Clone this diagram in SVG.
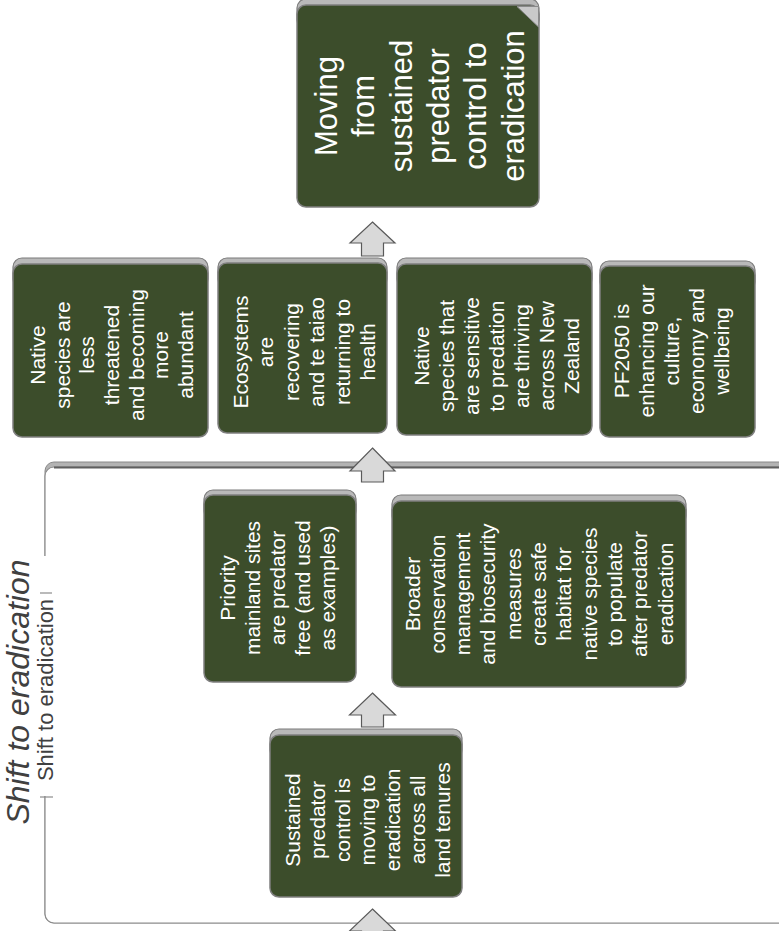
<svg xmlns="http://www.w3.org/2000/svg" width="779" height="931" viewBox="0 0 779 931">
<style>
.tab{fill:#b9b9b9;stroke:#7a7a7a;stroke-width:1.2}
.box{fill:#3c4d2b;stroke:#7f7f7f;stroke-width:1.5}
.t{fill:#ffffff;font-family:"Liberation Sans",Arial,sans-serif;font-size:21px;text-anchor:middle}
.big{font-size:31px}
.arr{fill:#d9d9d9;stroke:#5a5a5a;stroke-width:1.2;stroke-linejoin:miter}
.lbl{fill:#404040;font-family:"Liberation Sans",Arial,sans-serif;text-anchor:middle}
</style>
<rect width="779" height="931" fill="#ffffff"/>

<g id="container">
  <rect x="45" y="462" width="760" height="461" rx="9" fill="#b3b3b3" stroke="#8a8a8a" stroke-width="1"/>
  <rect x="45" y="467" width="760" height="456" rx="9" fill="#ffffff" stroke="#8c8c8c" stroke-width="1.2"/>
  <line x1="54" y1="467.5" x2="779" y2="467.5" stroke="#5f5f5f" stroke-width="2"/>
  <rect x="36" y="556" width="20" height="240" fill="#ffffff"/>
  <line x1="40" y1="593" x2="52" y2="593" stroke="#8c8c8c" stroke-width="1.2"/>
  <line x1="40" y1="797" x2="53" y2="797" stroke="#8c8c8c" stroke-width="1.2"/>
  <text class="lbl" transform="translate(29,692) rotate(-90)" font-size="32" font-style="italic">Shift to eradication</text>
  <text class="lbl" transform="translate(53,690) rotate(-90)" font-size="22">Shift to eradication</text>
</g>

<g id="connectors">
  <polygon class="arr" points="372.5,222 395,243 383.5,243 383.5,256 361.5,256 361.5,243 350,243"/>
  <polygon class="arr" points="372.5,448 395,471 383.5,471 383.5,482 361.5,482 361.5,471 350,471"/>
  <polygon class="arr" points="372.5,693 395.5,715 383.5,715 383.5,727 361.5,727 361.5,715 349.5,715"/>
  <polygon class="arr" points="372.5,909 395.5,931 383.5,931 383.5,943 361.5,943 361.5,931 349.5,931"/>
</g>

<g id="goal">
  <rect class="tab" x="297" y="-1" width="242" height="30" rx="9"/>
  <rect class="box" x="297" y="5" width="242" height="202" rx="9"/>
  <polygon points="517,6.5 538.5,6.5 538.5,27" fill="#c9c9c9" stroke="#8a8a8a" stroke-width="1"/>
  <text class="t big" transform="translate(420,106) rotate(-90)">
    <tspan x="0" y="-82.9">Moving</tspan><tspan x="0" y="-45.6">from</tspan><tspan x="0" y="-8.3">sustained</tspan><tspan x="0" y="29">predator</tspan><tspan x="0" y="66.3">control to</tspan><tspan x="0" y="103.6">eradication</tspan>
  </text>
</g>

<g id="outcome1">
  <rect class="tab" x="13" y="258" width="195" height="30" rx="9"/>
  <rect class="box" x="13" y="264" width="195" height="173" rx="9"/>
  <text class="t" transform="translate(112,355) rotate(-90)">
    <tspan x="0" y="-67.1">Native</tspan><tspan x="0" y="-42.4">species are</tspan><tspan x="0" y="-17.7">less</tspan><tspan x="0" y="7">threatened</tspan><tspan x="0" y="31.7">and becoming</tspan><tspan x="0" y="56.4">more</tspan><tspan x="0" y="81.1">abundant</tspan>
  </text>
</g>

<g id="outcome2">
  <rect class="tab" x="218" y="258" width="169" height="30" rx="9"/>
  <rect class="box" x="218" y="263" width="169" height="170" rx="9"/>
  <text class="t" transform="translate(305,352) rotate(-90)">
    <tspan x="0" y="-57.5">Ecosystems</tspan><tspan x="0" y="-32">are</tspan><tspan x="0" y="-6.5">recovering</tspan><tspan x="0" y="19">and te taiao</tspan><tspan x="0" y="44.5">returning to</tspan><tspan x="0" y="70">health</tspan>
  </text>
</g>

<g id="outcome3">
  <rect class="tab" x="397" y="258" width="195" height="30" rx="9"/>
  <rect class="box" x="397" y="264" width="195" height="171" rx="9"/>
  <text class="t" transform="translate(497,356) rotate(-90)">
    <tspan x="0" y="-68">Native</tspan><tspan x="0" y="-43">species that</tspan><tspan x="0" y="-18">are sensitive</tspan><tspan x="0" y="7">to predation</tspan><tspan x="0" y="32">are thriving</tspan><tspan x="0" y="57">across New</tspan><tspan x="0" y="82">Zealand</tspan>
  </text>
</g>

<g id="outcome4">
  <rect class="tab" x="600" y="261" width="155" height="30" rx="9"/>
  <rect class="box" x="600" y="266" width="155" height="171" rx="9"/>
  <text class="t" transform="translate(672,351) rotate(-90)">
    <tspan x="0" y="-43">PF2050 is</tspan><tspan x="0" y="-18">enhancing our</tspan><tspan x="0" y="7">culture,</tspan><tspan x="0" y="32">economy and</tspan><tspan x="0" y="57">wellbeing</tspan>
  </text>
</g>

<g id="priority">
  <rect class="tab" x="204" y="490" width="152" height="30" rx="9"/>
  <rect class="box" x="204" y="495" width="152" height="187" rx="9"/>
  <text class="t" transform="translate(278,588) rotate(-90)">
    <tspan x="0" y="-43">Priority</tspan><tspan x="0" y="-18">mainland sites</tspan><tspan x="0" y="7">are predator</tspan><tspan x="0" y="32">free (and used</tspan><tspan x="0" y="57">as examples)</tspan>
  </text>
</g>

<g id="broader">
  <rect class="tab" x="392" y="495" width="294" height="30" rx="9"/>
  <rect class="box" x="392" y="501" width="294" height="186" rx="9"/>
  <text class="t" transform="translate(539,594) rotate(-90)">
    <tspan x="0" y="-119.5">Broader</tspan><tspan x="0" y="-94.2">conservation</tspan><tspan x="0" y="-68.9">management</tspan><tspan x="0" y="-43.6">and biosecurity</tspan><tspan x="0" y="-18.3">measures</tspan><tspan x="0" y="7">create safe</tspan><tspan x="0" y="32.3">habitat for</tspan><tspan x="0" y="57.6">native species</tspan><tspan x="0" y="82.9">to populate</tspan><tspan x="0" y="108.2">after predator</tspan><tspan x="0" y="133.5">eradication</tspan>
  </text>
</g>

<g id="sustained">
  <rect class="tab" x="270" y="729" width="192" height="30" rx="9"/>
  <rect class="box" x="270" y="735" width="192" height="162" rx="9"/>
  <text class="t" transform="translate(368,820) rotate(-90)">
    <tspan x="0" y="-68">Sustained</tspan><tspan x="0" y="-43">predator</tspan><tspan x="0" y="-18">control is</tspan><tspan x="0" y="7">moving to</tspan><tspan x="0" y="32">eradication</tspan><tspan x="0" y="57">across all</tspan><tspan x="0" y="82">land tenures</tspan>
  </text>
</g>
</svg>
